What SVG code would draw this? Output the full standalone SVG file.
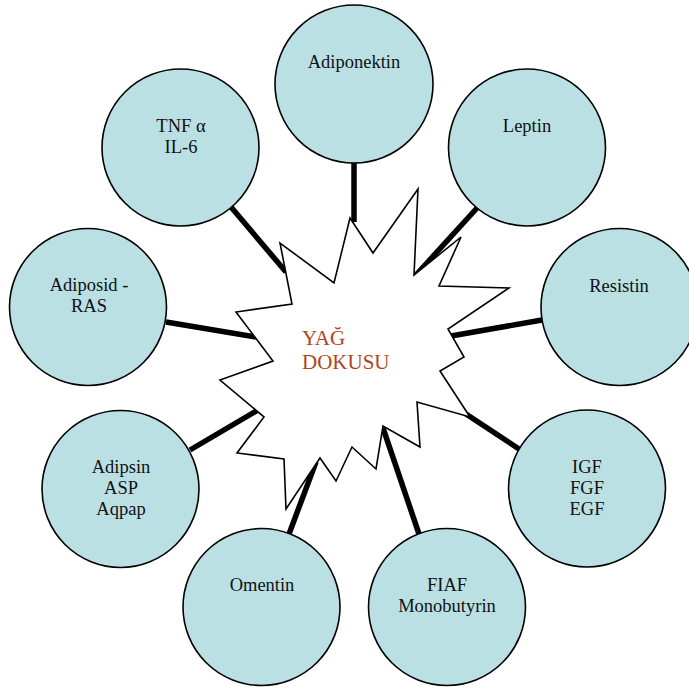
<svg xmlns="http://www.w3.org/2000/svg" width="689" height="687" viewBox="0 0 689 687">
<style>
.c{fill:#BAE0E4;stroke:#000;stroke-width:1.6}
.t{font-family:"Liberation Serif","Times New Roman",serif;font-size:18.5px;fill:#111;text-anchor:middle}
.l{stroke:#000;stroke-width:5.5;fill:none}
.ctr{font-family:"Liberation Serif","Times New Roman",serif;font-size:21px;fill:#B0441A}
</style>
<rect width="689" height="687" fill="#fff"/>
<g id="connectors">
<line class="l" x1="354" y1="160" x2="354" y2="222"/>
<line class="l" x1="231" y1="207" x2="286" y2="272"/>
<line class="l" x1="477" y1="208" x2="416" y2="275"/>
<line class="l" x1="542" y1="320" x2="451" y2="336"/>
<line class="l" x1="519" y1="449" x2="466" y2="414"/>
<line class="l" x1="419" y1="534" x2="383" y2="428"/>
<line class="l" x1="289" y1="534" x2="316" y2="462"/>
<line class="l" x1="190" y1="450" x2="258" y2="410"/>
<line class="l" x1="166" y1="322" x2="256" y2="337"/>
</g>
<g id="yag-dokusu">
<polygon points="350,218 373,253 418,189 414,275 461,237 439,286 509,288 448,329 464,357 440,371 470,417 417,402 420,447 383,426 376,469 352,447 336,481 320,458 286,509 284,459 237,453 264,417 220,380 273,361 236,312 292,304 280,243 334,283" fill="#fff" stroke="#000" stroke-width="1.6" stroke-linejoin="miter"/>
<text class="ctr" x="302" y="345">YAĞ</text>
<text class="ctr" x="302" y="369">DOKUSU</text>
</g>
<g id="adiponektin">
<circle class="c" cx="354" cy="84" r="79"/>
<text class="t" x="354" y="68">Adiponektin</text>
</g>
<g id="tnf">
<circle class="c" cx="180.5" cy="147.5" r="78.5"/>
<text class="t" x="181" y="132">TNF α</text>
<text class="t" x="181" y="153">IL-6</text>
</g>
<g id="leptin">
<circle class="c" cx="527" cy="147.5" r="78.5"/>
<text class="t" x="527" y="132">Leptin</text>
</g>
<g id="adiposid">
<circle class="c" cx="88" cy="307" r="78.5"/>
<text class="t" x="89" y="291">Adiposid -</text>
<text class="t" x="89" y="312">RAS</text>
</g>
<g id="resistin">
<circle class="c" cx="619.5" cy="307" r="78.5"/>
<text class="t" x="619" y="292">Resistin</text>
</g>
<g id="adipsin">
<circle class="c" cx="120.5" cy="489" r="78.5"/>
<text class="t" x="121" y="473">Adipsin</text>
<text class="t" x="121" y="494">ASP</text>
<text class="t" x="121" y="515">Aqpap</text>
</g>
<g id="igf">
<circle class="c" cx="587" cy="488.5" r="78.5"/>
<text class="t" x="587" y="473">IGF</text>
<text class="t" x="587" y="494">FGF</text>
<text class="t" x="587" y="515">EGF</text>
</g>
<g id="omentin">
<circle class="c" cx="261.5" cy="607" r="78.5"/>
<text class="t" x="262" y="591">Omentin</text>
</g>
<g id="fiaf">
<circle class="c" cx="447" cy="607" r="78.5"/>
<text class="t" x="447" y="591">FIAF</text>
<text class="t" x="447" y="612">Monobutyrin</text>
</g>
</svg>
